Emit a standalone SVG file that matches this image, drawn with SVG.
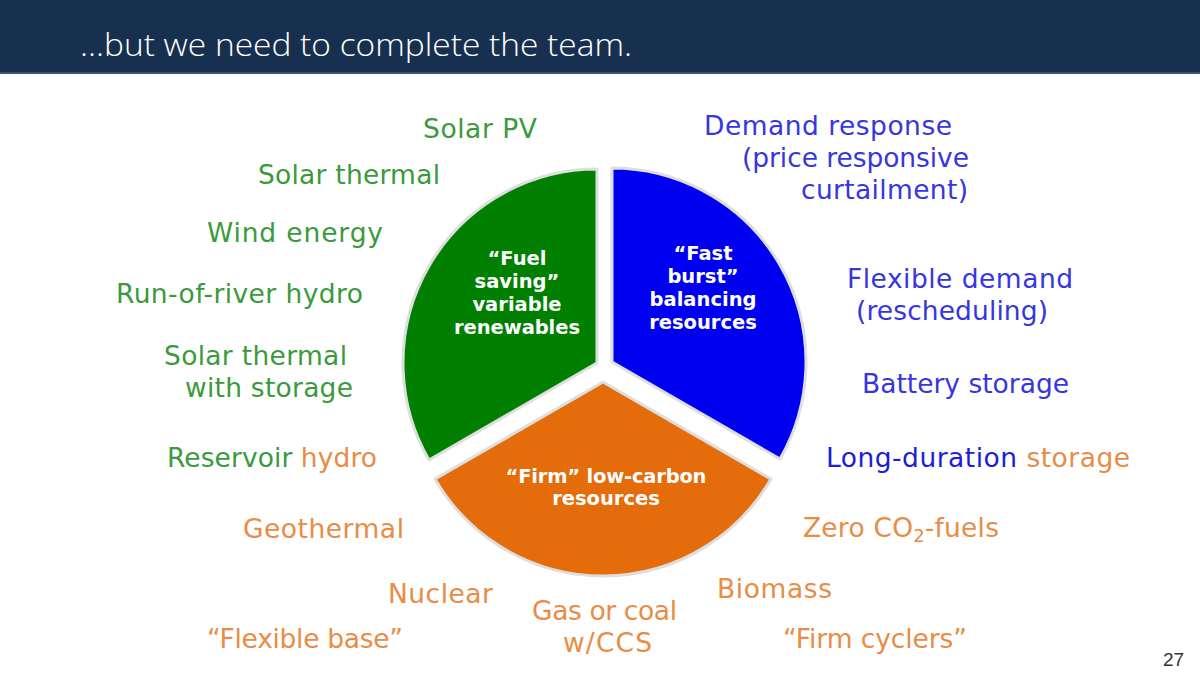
<svg xmlns="http://www.w3.org/2000/svg" width="1200" height="677" viewBox="0 0 1200 677">
<style>
.lbl{font-family:"DejaVu Sans","Noto Sans",sans-serif;font-size:26.5px}
.g{fill:#3a9a3c}
.o{fill:#e88c46}
.b{fill:#3636e0}
.sec{stroke:#dedede;stroke-width:3;stroke-linejoin:round}
.sl{font-family:"DejaVu Sans","Noto Sans",sans-serif;font-size:19.5px;font-weight:bold;fill:#ffffff;text-anchor:middle}
</style>
<rect x="0" y="0" width="1200" height="677" fill="#ffffff"/>
<g id="header">
<rect x="0" y="0" width="1200" height="73" fill="#18304f"/>
<rect x="0" y="72" width="1200" height="2" fill="#42536a"/>
<text x="80" y="56" font-family="'Open Sans','Noto Sans',sans-serif" font-weight="300" font-size="31" fill="#ffffff" textLength="552" lengthAdjust="spacingAndGlyphs">…but we need to complete the team.</text>
</g>
<g id="connectors"></g>
<g id="sector-green">
<path class="sec" d="M597,363 L597,169 A194,194 0 0,0 429,460 Z" fill="#007f00"/>
<text class="sl"><tspan x="517" y="265">“Fuel</tspan><tspan x="517" y="288">saving”</tspan><tspan x="517" y="311">variable</tspan><tspan x="517" y="334" textLength="126">renewables</tspan></text>
</g>
<g id="sector-blue">
<path class="sec" d="M612,362 L612,168 A194,194 0 0,1 780,459 Z" fill="#0000f0"/>
<text class="sl"><tspan x="703" y="260">“Fast</tspan><tspan x="703" y="283">burst”</tspan><tspan x="703" y="306" textLength="107">balancing</tspan><tspan x="703" y="329">resources</tspan></text>
</g>
<g id="sector-orange">
<path class="sec" d="M603,382 L771,479 A194,194 0 0,1 435,479 Z" fill="#e46c0a"/>
<text class="sl"><tspan x="606" y="483" textLength="201">“Firm” low-carbon</tspan><tspan x="606" y="505">resources</tspan></text>
</g>
<g id="labels-green">
<text class="lbl g" x="423" y="138" textLength="114">Solar PV</text>
<text class="lbl g" x="258" y="184" textLength="182">Solar thermal</text>
<text class="lbl g" x="207" y="242" textLength="176">Wind energy</text>
<text class="lbl g" x="116" y="303" textLength="247">Run-of-river hydro</text>
<text class="lbl g" x="164" y="365" textLength="183">Solar thermal</text>
<text class="lbl g" x="185" y="397" textLength="168">with storage</text>
<text class="lbl g" x="167" y="467" textLength="210">Reservoir <tspan class="o">hydro</tspan></text>
</g>
<g id="labels-orange">
<text class="lbl o" x="243" y="538" textLength="161">Geothermal</text>
<text class="lbl o" x="388" y="603" textLength="105">Nuclear</text>
<text class="lbl o" x="207" y="648" textLength="196">“Flexible base”</text>
<text class="lbl o" x="532" y="620" textLength="145">Gas or coal</text>
<text class="lbl o" x="563" y="652" textLength="89">w/CCS</text>
<text class="lbl o" x="803" y="537" textLength="196">Zero CO<tspan font-size="18" dy="5">2</tspan><tspan dy="-5">-fuels</tspan></text>
<text class="lbl o" x="717" y="598" textLength="115">Biomass</text>
<text class="lbl o" x="783" y="648" textLength="184">“Firm cyclers”</text>
</g>
<g id="labels-blue">
<text class="lbl b" x="704" y="135" textLength="248">Demand response</text>
<text class="lbl b" x="742" y="167" textLength="227">(price responsive</text>
<text class="lbl b" x="801" y="199" textLength="167">curtailment)</text>
<text class="lbl b" x="847" y="288" textLength="226">Flexible demand</text>
<text class="lbl b" x="856" y="320" textLength="192">(rescheduling)</text>
<text class="lbl b" x="862" y="393" textLength="207">Battery storage</text>
<text class="lbl" x="826" y="467" textLength="304"><tspan fill="#1c1cdc">Long-duration </tspan><tspan class="o">storage</tspan></text>
</g>
<g id="page-number">
<text x="1163" y="666" font-family="'Liberation Sans',sans-serif" font-size="19" fill="#333333">27</text>
</g>
</svg>
